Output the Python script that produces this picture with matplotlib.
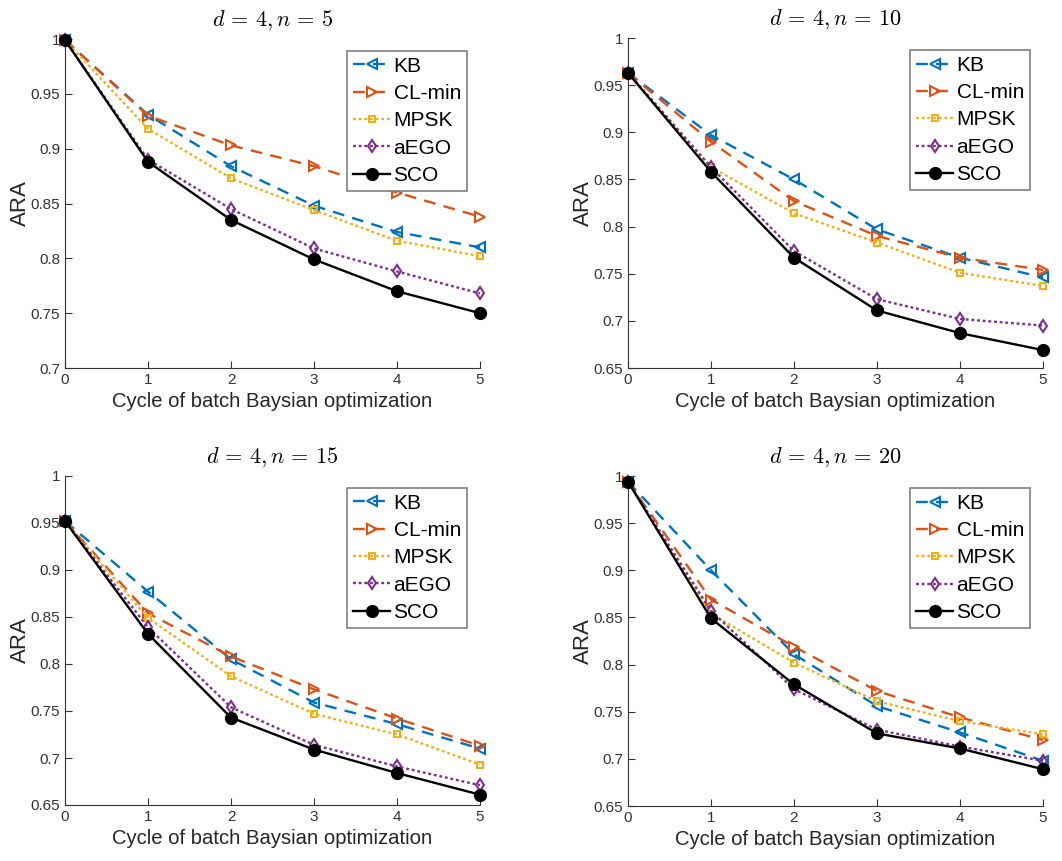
import matplotlib
matplotlib.use("Agg")
import matplotlib.pyplot as plt

# ── Data ──────────────────────────────────────────────────────────────────────
cycles = [0, 1, 2, 3, 4, 5]
methods = ["KB", "CL-min", "MPSK", "aEGO", "SCO"]
titles = [r"$d\,=\,4, n\,=\,5$", r"$d\,=\,4, n\,=\,10$",
          r"$d\,=\,4, n\,=\,15$", r"$d\,=\,4, n\,=\,20$"]

# d=4, n=5
kb_n5    = [0.999, 0.931, 0.884, 0.848, 0.824, 0.810]
clmin_n5 = [0.999, 0.930, 0.903, 0.884, 0.860, 0.838]
mpsk_n5  = [0.999, 0.918, 0.873, 0.844, 0.816, 0.802]
aego_n5  = [0.999, 0.890, 0.845, 0.809, 0.788, 0.768]
sco_n5   = [0.999, 0.888, 0.835, 0.799, 0.770, 0.750]

# d=4, n=10
kb_n10    = [0.963, 0.897, 0.850, 0.797, 0.767, 0.746]
clmin_n10 = [0.963, 0.890, 0.827, 0.790, 0.767, 0.754]
mpsk_n10  = [0.963, 0.863, 0.814, 0.783, 0.751, 0.737]
aego_n10  = [0.963, 0.863, 0.774, 0.723, 0.702, 0.695]
sco_n10   = [0.963, 0.858, 0.767, 0.711, 0.687, 0.669]

# d=4, n=15
kb_n15    = [0.952, 0.877, 0.805, 0.759, 0.736, 0.710]
clmin_n15 = [0.952, 0.854, 0.808, 0.773, 0.742, 0.713]
mpsk_n15  = [0.952, 0.849, 0.787, 0.747, 0.725, 0.693]
aego_n15  = [0.952, 0.839, 0.754, 0.714, 0.691, 0.671]
sco_n15   = [0.952, 0.832, 0.743, 0.709, 0.684, 0.661]

# d=4, n=20
kb_n20    = [0.994, 0.900, 0.811, 0.756, 0.728, 0.698]
clmin_n20 = [0.994, 0.869, 0.819, 0.772, 0.744, 0.720]
mpsk_n20  = [0.994, 0.854, 0.802, 0.761, 0.740, 0.726]
aego_n20  = [0.994, 0.857, 0.774, 0.731, 0.713, 0.698]
sco_n20   = [0.994, 0.849, 0.779, 0.727, 0.711, 0.689]

panels = [
    [kb_n5, clmin_n5, mpsk_n5, aego_n5, sco_n5],
    [kb_n10, clmin_n10, mpsk_n10, aego_n10, sco_n10],
    [kb_n15, clmin_n15, mpsk_n15, aego_n15, sco_n15],
    [kb_n20, clmin_n20, mpsk_n20, aego_n20, sco_n20],
]
ylows = [0.7, 0.65, 0.65, 0.65]

# ── Styles ────────────────────────────────────────────────────────────────────
styles = [
    dict(color="#0072BD", ls=(0, (5, 3.5)), marker="<", mfc="none", ms=7),
    dict(color="#D95319", ls=(0, (5, 3.5)), marker=">", mfc="none", ms=7),
    dict(color="#EDB120", ls=(0, (1.2, 1.2)), marker="s", mfc="none", ms=5),
    dict(color="#7E2F8E", ls=(0, (1.2, 1.2)), marker="d", mfc="none", ms=6),
    dict(color="black", ls="-", marker="o", mfc="black", ms=8),
]

plt.rcParams["mathtext.fontset"] = "cm"
plt.rcParams["font.family"] = ["Liberation Sans", "DejaVu Sans"]

fig = plt.figure(figsize=(10.62, 8.61), dpi=100)
W, H = 1062.0, 861.0
boxes = [(65, 39, 480, 368), (628, 38, 1043, 368),
         (65, 476, 480, 805), (628, 476, 1043, 806)]

for i, (l, t, r, b) in enumerate(boxes):
    ax = fig.add_axes([l / W, 1 - b / H, (r - l) / W, (b - t) / H])
    for vals, name, st in zip(panels[i], methods, styles):
        ax.plot(cycles, vals, label=name, color=st["color"], linestyle=st["ls"],
                linewidth=1.7, marker=st["marker"], markersize=st["ms"],
                markerfacecolor=st["mfc"], markeredgewidth=1.5,
                clip_on=False, zorder=3)
    ax.set_xlim(0, 5)
    ax.set_ylim(ylows[i], 1.0)
    ax.set_xticks(cycles)
    yt = [round(ylows[i] + 0.05 * k, 2) for k in range(int(round((1 - ylows[i]) / 0.05)) + 1)]
    ax.set_yticks(yt)
    ax.set_yticklabels(["1" if v == 1.0 else f"{v:g}" for v in yt])
    ax.tick_params(direction="in", labelsize=11, colors="#333333", length=5)
    for s in ["top", "right"]:
        ax.spines[s].set_visible(False)
    for s in ["left", "bottom"]:
        ax.spines[s].set_color("#333333")
        ax.spines[s].set_linewidth(0.8)
    ax.set_xlabel("Cycle of batch Baysian optimization", fontsize=14.6, color="#262626", labelpad=4)
    ax.set_ylabel("ARA", fontsize=16, color="#262626", labelpad=0)
    ax.set_title(titles[i], fontsize=16, pad=10)
    leg = ax.legend(loc="upper right", bbox_to_anchor=(0.969, 0.965), fontsize=15,
                    fancybox=False, edgecolor="#808080", framealpha=1,
                    handlelength=1.8, handletextpad=0.15, labelspacing=0.4,
                    borderpad=0.3, borderaxespad=0)
    leg.get_frame().set_linewidth(1.2)

fig.savefig("out.png", dpi=100)
